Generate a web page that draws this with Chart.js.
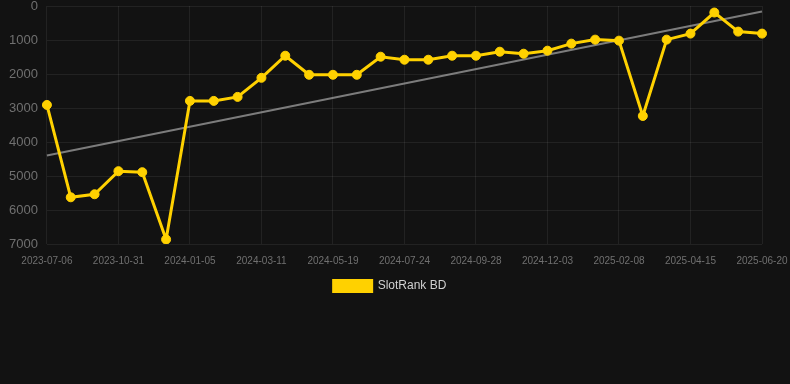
<!DOCTYPE html>
<html>
<head>
<meta charset="utf-8">
<script src="https://cdn.jsdelivr.net/npm/chart.js@4/dist/chart.umd.min.js"></script>
<style>
  html, body { margin: 0; padding: 0; background: #121212; }
  #wrap { width: 790px; height: 384px; }
</style>
</head>
<body>
<div id="wrap"><canvas id="c" width="790" height="384"></canvas></div>
<script>
const dates = [
  "2023-07-06","2023-08-14","2023-09-22","2023-10-31","2023-11-22","2023-12-14",
  "2024-01-05","2024-01-27","2024-02-18","2024-03-11","2024-04-02","2024-04-26",
  "2024-05-19","2024-06-10","2024-07-02","2024-07-24","2024-08-15","2024-09-06",
  "2024-09-28","2024-10-20","2024-11-11","2024-12-03","2024-12-25","2025-01-16",
  "2025-02-08","2025-03-02","2025-03-24","2025-04-15","2025-05-07","2025-05-29",
  "2025-06-20"
];
const rankValues = [
  2910, 5626, 5537, 4858, 4888, 6866,
  2791, 2791, 2673, 2112, 1462, 2023,
  2023, 2023, 1491, 1580, 1580, 1462,
  1462, 1344, 1403, 1314, 1107, 989,
  1019, 3234, 989, 812, 192, 753,
  812
];
const trendStart = 4400;
const trendEnd = 160;
const trendValues = dates.map((d, i) => i === 0 ? trendStart : (i === dates.length - 1 ? trendEnd : null));
const yTicks = [0, 1000, 2000, 3000, 4000, 5000, 6000, 7000];
const seriesName = "SlotRank BD";

const gridColor = 'rgba(255,255,255,0.07)';
const fontFamily = '"Liberation Sans", Arial, Helvetica, sans-serif';

new Chart(document.getElementById('c'), {
  type: 'line',
  data: {
    labels: dates,
    datasets: [
      {
        label: seriesName,
        data: rankValues,
        borderColor: '#FFD100',
        backgroundColor: '#FFD100',
        borderWidth: 3,
        pointRadius: 4.5,
        pointHoverRadius: 4.5,
        pointBorderWidth: 1,
        pointBackgroundColor: '#FFD100',
        pointBorderColor: '#FFD100',
        tension: 0,
        order: 1
      },
      {
        label: 'trend',
        data: trendValues,
        borderColor: 'rgba(160,160,160,0.75)',
        borderWidth: 2,
        pointRadius: 0,
        spanGaps: true,
        order: 2
      }
    ]
  },
  options: {
    responsive: false,
    animation: false,
    layout: { padding: { left: 0, right: 10, top: 0, bottom: 82 } },
    plugins: {
      tooltip: { enabled: false },
      legend: {
        position: 'bottom',
        labels: {
          filter: item => item.text === seriesName,
          boxWidth: 38,
          boxHeight: 11,
          color: '#d0d0d0',
          font: { family: fontFamily, size: 12 },
          padding: 2
        }
      }
    },
    scales: {
      x: {
        afterFit: s => { s.paddingRight = 28; },
        grid: {
          color: ctx => (ctx.index % 3 === 0 ? gridColor : 'transparent'),
          drawTicks: false
        },
        border: { display: false },
        ticks: {
          autoSkip: false,
          maxRotation: 0,
          minRotation: 0,
          padding: 11,
          color: '#707070',
          font: { family: fontFamily, size: 10 },
          callback: function (val, idx) { return idx % 3 === 0 ? this.getLabelForValue(val) : ''; }
        }
      },
      y: {
        reverse: true,
        min: 0,
        max: 7000,
        afterBuildTicks: axis => { axis.ticks = yTicks.map(v => ({ value: v })); },
        afterFit: s => { s.paddingTop = 6; },
        grid: { color: gridColor, drawTicks: false },
        border: { display: false },
        ticks: {
          padding: 9,
          color: '#707070',
          font: { family: fontFamily, size: 13 },
          callback: v => String(v)
        }
      }
    }
  }
});
</script>
</body>
</html>
